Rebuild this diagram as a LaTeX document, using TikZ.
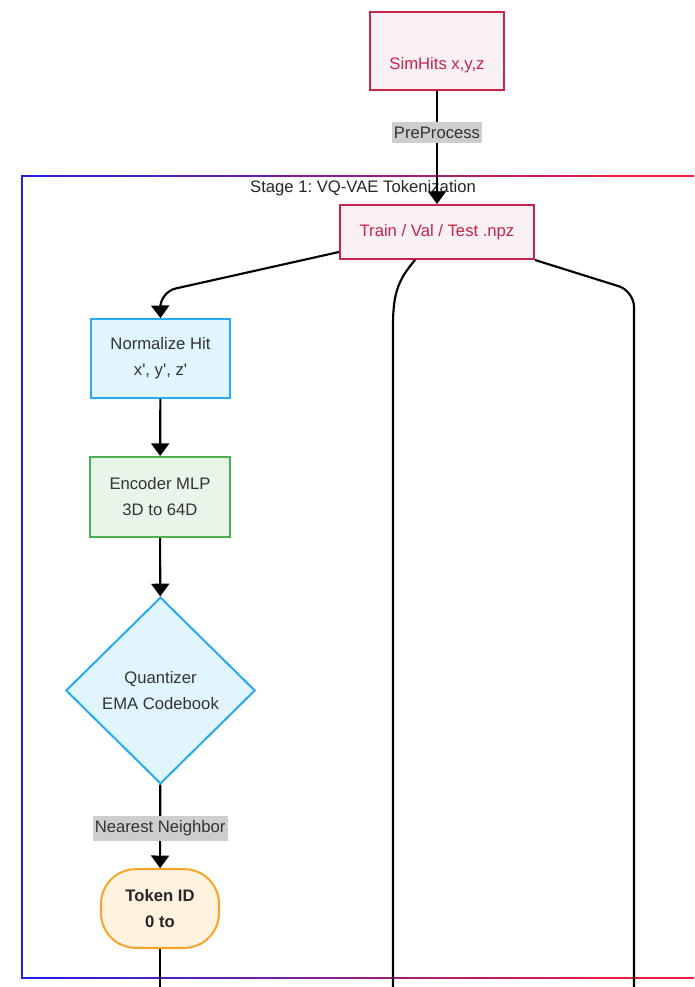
\documentclass[tikz,border=0pt]{standalone}
\usepackage{fontspec}
\setmainfont{Liberation Sans}[Ligatures=TeXOff]
\usetikzlibrary{arrows.meta,shapes.geometric}
\frenchspacing

\definecolor{simred}{RGB}{200,35,75}
\definecolor{simfill}{RGB}{248,240,242}
\definecolor{normblue}{RGB}{41,170,240}
\definecolor{normfill}{RGB}{225,245,254}
\definecolor{encgreen}{RGB}{76,175,80}
\definecolor{encfill}{RGB}{232,245,233}
\definecolor{tokorange}{RGB}{247,163,40}
\definecolor{tokfill}{RGB}{255,243,224}
\definecolor{lblgray}{RGB}{206,206,206}
\definecolor{txtgray}{RGB}{51,51,51}
\definecolor{frameblue}{RGB}{30,30,230}
\definecolor{framered}{RGB}{232,30,60}

\tikzset{
  databox/.style={draw=simred, fill=simfill, text=simred, line width=1.5pt, inner sep=0pt},
  procbox/.style={line width=1.5pt, minimum width=104pt, minimum height=59pt, align=center, text=txtgray},
  edgelabel/.style={fill=lblgray, text=txtgray, inner xsep=1.5pt, inner ysep=3.5pt},
  arrow/.style={line width=1.6pt, -{Triangle[width=13.5pt,length=9.5pt]}}
}

\begin{document}
\begin{tikzpicture}[x=0.75pt, y=-0.75pt, font=\fontsize{12.5}{19.5}\selectfont]
      \useasboundingbox (0,0) rectangle (694,987);
      \clip (0,0) rectangle (694,987);

      % Stage frame (blue to red)
      \draw[line width=1.5pt, frameblue, line cap=rect] (22,176) -- (22,977.5);
      \foreach \i in {0,...,67} {
        \pgfmathsetmacro\p{max(0,min(100,(593-10*\i)/5.98))}
        \draw[line width=1.5pt, draw=frameblue!\p!framered] (22+10*\i,176) -- (33+10*\i,176);
        \draw[line width=1.5pt, draw=frameblue!\p!framered] (22+10*\i,977.5) -- (33+10*\i,977.5);
      }
      \node[text=black!85] (stage) at (363,188) {Stage 1: VQ-VAE Tokenization};

      % Nodes
      \node[databox, minimum width=100.5pt, text height=43.5pt, text depth=15pt] (sim) at (437,51) {SimHits x,y,z};
      \node[databox, minimum width=145.5pt, minimum height=40.5pt] (train) at (437,232) {Train / Val / Test .npz};
      \node[procbox, draw=normblue, fill=normfill] (norm) at (160.5,358.5) {Normalize Hit\\x', y', z'};
      \node[procbox, draw=encgreen, fill=encfill, minimum width=105pt, minimum height=60pt] (enc) at (160,497) {Encoder MLP\\3D to 64D};
      \node[diamond, draw=normblue, fill=normfill, line width=1.5pt, minimum width=142pt, minimum height=140pt, inner sep=0pt, align=center, text=txtgray] (quant) at (160.5,690.5) {Quantizer\\EMA Codebook};
      \node[draw=tokorange, fill=tokfill, line width=1.5pt, rounded corners=26pt, minimum width=88.5pt, minimum height=59pt, align=center, text=black!85, font=\fontsize{12.5}{19.5}\selectfont\bfseries] (token) at (160,908.5) {Token ID\\0 to};

      \coordinate (bendL) at (160,292);
      \coordinate (bendR) at (634,291);
      \coordinate (midEnd) at (393,1000);
      \coordinate (rightEnd) at (634,1000);
      \coordinate (tokEnd) at (160,1000);

      % Edges
      \draw[arrow] (sim) -- node[edgelabel, pos=0.37] (pre) {PreProcess} (train);
      \draw[arrow, rounded corners=12pt] ([yshift=-15pt]train.west) -- (bendL) -- (norm.north);
      \draw[line width=1.6pt] ([xshift=-16.5pt]train.south) .. controls (400,278) and (393,290) .. (393,325) -- (midEnd);
      \draw[line width=1.6pt, rounded corners=12pt] (train.south east) -- (bendR) -- (rightEnd);
      \draw[arrow] (norm) -- (enc);
      \draw[arrow] (enc) -- (quant);
      \draw[arrow] (quant) -- node[edgelabel, pos=0.52] (nearest) {Nearest Neighbor} (token);
      \draw[line width=1.6pt] (token) -- (tokEnd);
    \end{tikzpicture}
\end{document}
